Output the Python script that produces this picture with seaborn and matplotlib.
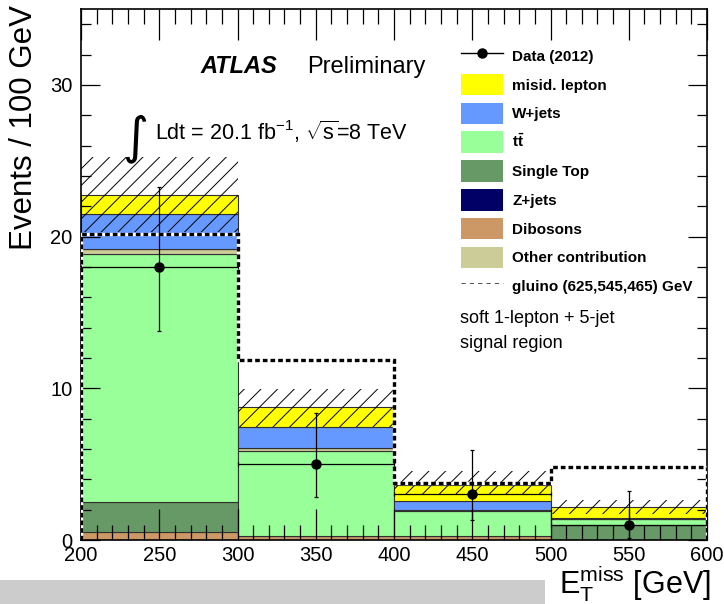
import numpy as np
import pandas as pd
import matplotlib
matplotlib.use("Agg")
import matplotlib.pyplot as plt
import seaborn as sns
from matplotlib.patches import Patch, Rectangle
from matplotlib.lines import Line2D
from matplotlib.ticker import MultipleLocator

# ---------------- data ----------------
bin_edges = [200, 300, 400, 500, 600]
bin_centers = [250, 350, 450, 550]

dibosons = [0.51, 0.28, 0.25, 0.00]
single_top = [1.98, 0.00, 0.00, 0.99]
ttbar = [16.35, 5.56, 1.69, 0.38]
other = [0.33, 0.22, 0.05, 0.00]
zjets = [0.00, 0.00, 0.00, 0.08]
wjets = [2.31, 1.39, 0.59, 0.00]
misid = [1.26, 1.29, 1.06, 0.75]

bkg_err_up = [2.50, 1.23, 0.94, 0.44]
bkg_err_down = [2.45, 1.27, 0.62, 0.50]

signal = [20.16, 11.85, 3.75, 4.80]

data = [18, 5, 3, 1]
data_err_up = [5.3, 3.37, 2.9, 2.26]
data_err_down = [4.2, 2.14, 1.68, 0.87]

# stacking order (top -> bottom for seaborn stack)
proc_names = ["misid. lepton", "W+jets", "Z+jets", "Other contribution", "ttbar", "Single Top", "Dibosons"]
proc_values = [misid, wjets, zjets, other, ttbar, single_top, dibosons]
proc_colors = ["#FFFF00", "#6699FF", "#000066", "#CCCC99", "#99FF99", "#669966", "#CC9966"]

# ---------------- style ----------------
plt.rcParams["font.family"] = ["Liberation Sans", "DejaVu Sans"]
plt.rcParams["mathtext.fontset"] = "custom"
plt.rcParams["mathtext.rm"] = "Liberation Sans"
plt.rcParams["mathtext.it"] = "Liberation Sans:italic"
plt.rcParams["mathtext.bf"] = "Liberation Sans:bold"
plt.rcParams["hatch.linewidth"] = 0.7

W, H = 724, 604
fig = plt.figure(figsize=(W / 100, H / 100), dpi=100)
ax = fig.add_axes([81 / W, 1 - 540 / H, (707 - 81) / W, (540 - 9) / H])

rows = []
for name, vals in zip(proc_names, proc_values):
    for c, v in zip(bin_centers, vals):
        if v > 0:
            rows.append({"met": c, "events": v, "process": name})
df = pd.DataFrame(rows)

sns.histplot(data=df, x="met", weights="events", hue="process", hue_order=proc_names,
             palette=dict(zip(proc_names, proc_colors)), multiple="stack", bins=bin_edges,
             element="bars", alpha=1, edgecolor="#303030", linewidth=0.8, legend=False, ax=ax)

total = np.sum(np.array(proc_values), axis=0)
ax.bar(bin_centers, np.array(bkg_err_up) + np.array(bkg_err_down), bottom=total - np.array(bkg_err_down),
       width=100, fill=False, hatch="//", edgecolor="black", linewidth=0, zorder=2)

ax.stairs(signal, bin_edges, baseline=0, color="white", lw=2.4, zorder=5)
ax.stairs(signal, bin_edges, baseline=0, color="black", lw=2.4, linestyle=(0, (1.4, 0.9)), zorder=6)

ax.errorbar(bin_centers, data, yerr=[data_err_down, data_err_up], xerr=50, fmt="o", color="black",
            ms=6.5, lw=0.9, capsize=1.5, capthick=0.9, zorder=10)

ax.set_xlim(200, 600)
ax.set_ylim(0, 35)
ax.set_xlabel("")
ax.set_ylabel("")
ax.xaxis.set_major_locator(MultipleLocator(50))
ax.xaxis.set_minor_locator(MultipleLocator(10))
ax.yaxis.set_major_locator(MultipleLocator(10))
ax.yaxis.set_minor_locator(MultipleLocator(2))
ax.tick_params(which="both", direction="in", top=True, right=True, width=0.9, labelsize=14.5)
ax.tick_params(axis="x", which="major", length=22, pad=4)
ax.tick_params(axis="x", which="minor", length=11)
ax.tick_params(axis="y", which="major", length=13.7, pad=6)
ax.tick_params(axis="y", which="minor", length=7)
for s in ax.spines.values():
    s.set_linewidth(1.2)

def fx(x):
    return x / W

def fy(y):
    return 1 - y / H

fig.text(fx(24), fy(5), "Events / 100 GeV", rotation=90, ha="center", va="top", fontsize=22.5)
fig.text(fx(711), fy(594), r"$\mathregular{E_{T}^{miss}}$ [GeV]", ha="right", va="baseline", fontsize=22)

fig.text(fx(200), fy(73), "ATLAS", fontsize=17, weight="bold", style="italic", va="baseline")
fig.text(fx(307), fy(73), "Preliminary", fontsize=17, va="baseline")
fig.text(fx(122), fy(152), "\u222b", fontsize=36, va="baseline", family=["DejaVu Sans"])
fig.text(fx(155), fy(140), r"Ldt = 20.1 fb$^{\mathregular{-1}}$, $\sqrt{\mathregular{s}}$=8 TeV",
         fontsize=15.5, va="baseline")

handles = [Line2D([0], [0], color="black", marker="o", ms=6.5, lw=1.0)]
labels = ["Data (2012)"]
leg_names = ["misid. lepton", "W+jets", r"$\mathbf{t\bar{t}}$", "Single Top", "Z+jets", "Dibosons", "Other contribution"]
leg_colors = ["#FFFF00", "#6699FF", "#99FF99", "#669966", "#000066", "#CC9966", "#CCCC99"]
for n, c in zip(leg_names, leg_colors):
    handles.append(Patch(facecolor=c, edgecolor="none"))
    labels.append(n)
handles.append(Line2D([0], [0], color="#333333", lw=0.6, linestyle=(0, (5, 5))))
labels.append("gluino (625,545,465) GeV")

fig.legend(handles, labels, loc="upper left", bbox_to_anchor=(fx(461), fy(45)), frameon=False,
           prop={"weight": "bold", "size": 11}, handlelength=2.75, handleheight=1.8,
           labelspacing=0.47, handletextpad=0.6, borderpad=0, borderaxespad=0)

fig.text(fx(460), fy(323), "soft 1-lepton + 5-jet", fontsize=13, va="baseline")
fig.text(fx(460), fy(348), "signal region", fontsize=13, va="baseline")

fig.patches.append(Rectangle((0, 0), fx(545), fy(580), transform=fig.transFigure,
                             facecolor="#cccccc", edgecolor="none", zorder=-1))

fig.savefig("out.png", dpi=100)
